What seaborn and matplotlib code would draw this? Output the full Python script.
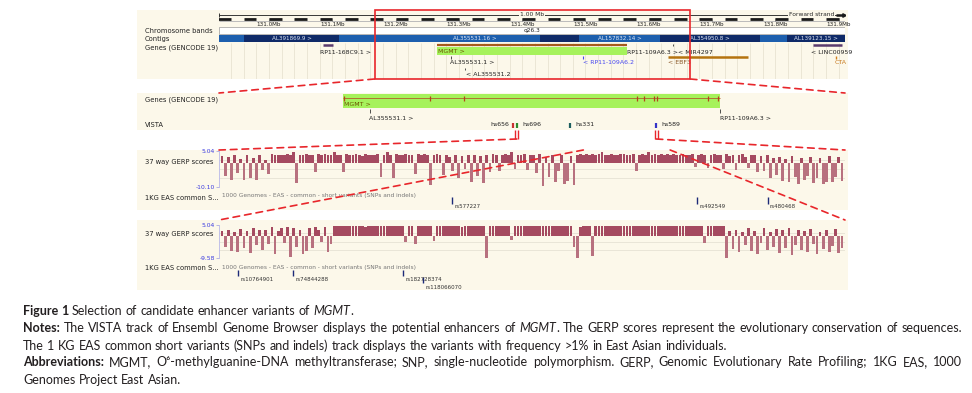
import numpy as np
import pandas as pd
import matplotlib
matplotlib.use("Agg")
import matplotlib.pyplot as plt
import seaborn as sns
from matplotlib.patches import Rectangle, ConnectionPatch

sns.set_theme(style="white")
plt.rcParams['font.family'] = ['DejaVu Sans']

W, H = 972, 393
BEIGE = '#fcf8ea'
RED = '#e8262b'
INK = '#231f20'

# genomic windows (Mb) shown in the four stacked views
region1 = (130.921, 131.910)
region2 = (131.1667, 131.6655)
region3 = (131.4040, 131.5150)
region4 = (131.4686, 131.4840)

# overview: contigs (start, end, label, dark?)
contig_start = [130.921, 130.961, 131.111, 131.223, 131.428, 131.490, 131.618, 131.776, 131.819]
contig_end = [130.961, 131.111, 131.223, 131.428, 131.490, 131.618, 131.776, 131.819, 131.910]
contig_label = ["", "AL391869.9 >", "", "AL355531.16 >", "", "AL157832.14 >", "AL354950.8 >", "", "AL139123.15 >"]
contig_dark = [False, True, False, False, True, False, True, False, True]

# MGMT gene and its exons
mgmt = (131.2655, 131.5658)
mgmt_exons = [131.2660, 131.3348, 131.3619, 131.4998, 131.5053, 131.5133, 131.5157, 131.5563, 131.5643]

# VISTA enhancers
vista_names = ["hs656", "hs696", "hs331", "hs589"]
vista_pos = [131.4010, 131.4041, 131.4464, 131.5149]
vista_cols = ['#c83232', '#2e8b2e', '#1d5f5f', '#3434c8']

# 37 way GERP scores, wide view (region3)
gerp3 = [
    2.8, -5.5, 2.4, -7.0, 3.2, -4.2, 1.5, -7.2, 3.4, -6.4, 2.2, -7.1, 3.5, -3.0, 1.2, -4.5, 3.6, 3.4, 3.5, 3.3,
    3.5, 3.6, 3.4, 4.6, -8.5, 3.5, 3.3, 3.6, 3.5, 3.4, -3.8, 3.6, 3.5, 3.7, 3.2, 3.4, 4.5, 3.5, 3.3, -4.0,
    3.6, 3.5, 3.4, 3.7, 3.5, 2.9, 3.6, 3.4, 3.5, 3.3, 3.6, -6.0, 3.5, 4.7, 3.4, -6.2, 3.6, 3.5, 3.3, 3.6,
    3.4, 3.5, -4.5, 3.7, 3.3, 3.6, 3.5, -9.2, 3.4, 3.6, 3.2, -5.0, 3.5, 2.6, -3.5, 3.4, -6.5, 2.8, -2.5, 3.5,
    -7.8, 3.2, -5.5, 2.9, -8.6, 3.4, -4.0, 3.6, 3.5, -3.2, 3.5, 3.7, 3.4, 4.6, -2.5, 3.5, 3.3, 3.6, -3.0, 3.4,
    3.5, -4.2, 3.6, -9.8, 2.5, -6.0, 3.2, -8.2, -3.5, 3.5, -8.9, -7.5, 3.0, -9.3, 3.4, 3.6, 3.5, 3.7, 3.4, 3.6,
    3.5, 3.6, 4.7, 3.4, 3.5, 3.6, 3.5, 3.3, 3.6, 3.7, 3.5, 3.4, 3.6, -3.4, 3.5, 3.6, 3.4, 4.5, 3.5, 3.6,
    3.4, 3.6, 3.5, 3.7, 3.5, 3.6, 3.4, 3.5, 3.6, 3.3, 3.5, 3.7, -1.5, 3.4, 3.6, 3.5, -2.0, 3.3, 3.6, 3.5,
    3.4, -2.5, 3.6, 2.8, 3.5, -3.0, 3.3, 3.6, 2.5, -2.2, 3.4, 3.5, -4.0, 2.8, -3.5, 3.2, -6.5, 2.0, -5.0, 2.5,
    -7.5, 1.8, -8.0, 3.0, -6.0, -8.8, 2.2, -7.0, -5.5, 2.6, -8.5, -6.5, 2.0, -9.0, -7.8, 2.8, -8.2, -6.0, 2.4, -7.5,
]
# 37 way GERP scores, close view (region4)
gerp4 = [
    2.5, -4.5, 3.0, -6.5, 1.8, -7.0, 3.2, -5.0, 2.2, -7.3, 3.5, -4.0, 2.8, -6.0, 3.0, -3.5, 4.3, -8.0, 2.5, 3.8,
    -3.0, 4.0, -9.0, 3.5, -4.5, 2.8, -8.0, -6.5, 3.6, -5.0, 4.2, 3.0, -2.5, 4.0, -7.0, -3.5, 4.4, 4.5, 4.6, 4.4,
    4.6, 4.5, 4.7, 4.4, 4.6, 4.5, 4.3, 4.6, 4.5, 4.7, 4.4, 4.6, 4.5, 4.6, 4.4, 4.5, 4.7, 4.6, 4.5, -2.5,
    4.6, 4.4, -3.5, 4.5, 4.6, 4.7, 4.5, 4.4, -2.0, 4.6, 4.5, 4.6, 4.4, 4.7, 4.5, 4.6, 4.5, 4.3, 4.6, 4.5,
    4.4, 4.6, 4.5, 4.7, 4.6, -9.5, 4.5, 4.4, 4.6, 4.5, 4.7, 4.6, 4.4, -1.5, 4.5, 4.6, 4.5, 4.4, 4.6, 4.7,
    4.5, 4.6, 4.4, 4.5, 4.7, 4.6, 4.5, 4.4, 4.6, 4.5, 4.6, 4.7, 4.4, -4.5, -10.0, 4.2, 4.6, 4.5, 4.4, -8.5,
    4.6, 4.5, 4.7, 4.4, 4.6, 4.5, 4.6, 4.4, 4.5, 4.7, 4.6, 4.5, 4.4, 4.6, 4.5, 4.7, 4.6, 4.5, 4.4, 4.6,
    4.5, 4.7, 4.6, 4.4, 4.5, 4.6, 4.5, 4.7, 4.4, 4.6, 4.5, 4.6, 4.4, 4.5, 4.7, -3.0, 4.6, 4.5, 4.4, 4.6,
    4.5, 4.6, -9.8, 2.5, -5.5, 3.0, -7.0, 1.8, -4.0, 3.5, -6.5, 2.2, -8.0, -3.0, 3.8, -6.0, 2.0, -4.5, 3.2, -7.5,
    2.8, -5.0, 3.6, -8.2, -4.0, 3.0, -6.0, 2.5, -7.0, 3.4, -3.5, -8.0, 2.0, -5.5, 3.0, -6.8, -4.2, 3.3, -7.5, -5.0,
]
gerp3_range = (-10.10, 5.04)
gerp4_range = (-9.58, 5.04)

# 1KG EAS common variants
var3_names = ["rs577227", "rs492549", "rs480468"]
var3_pos = [131.4453, 131.4888, 131.5013]
var4_names = ["rs10764901", "rs74844288", "rs182728374", "rs118066070"]
var4_pos = [131.46907, 131.47042, 131.47313, 131.47362]
var4_row = [0, 0, 0, 1]

fig = plt.figure(figsize=(W / 100, H / 100), dpi=100)


def px_axes(x0, y0, x1, y1, z=2):
    ax = fig.add_axes([x0 / W, 1 - y1 / H, (x1 - x0) / W, (y1 - y0) / H], zorder=z)
    ax.set_facecolor('none')
    return ax


bg = px_axes(0, 0, W, H, z=0)
bg.set_xlim(0, W)
bg.set_ylim(H, 0)
bg.axis('off')

panels = [(10, 79), (93, 130), (150, 210), (220, 290)]
for top, bot in panels:
    bg.add_patch(Rectangle((137, top), 711, bot - top, color=BEIGE, lw=0))

side_labels = [("Chromosome bands", 31), ("Contigs", 39), ("Genes (GENCODE 19)", 48),
               ("Genes (GENCODE 19)", 100), ("VISTA", 125),
               ("37 way GERP scores", 162), ("1KG EAS common S...", 198),
               ("37 way GERP scores", 234), ("1KG EAS common S...", 268)]
for s, y in side_labels:
    bg.text(145, y, s, fontsize=4.9, va='center', color='#222')


def track(top, bot, region):
    ax = px_axes(219, top, 845, bot)
    ax.set_xlim(*region)
    ax.set_ylim(bot, top)
    ax.axis('off')
    return ax


lab = dict(fontsize=4.5, va='center', color='#222')

# ---------------- panel 1: overview -----------------
ax1 = track(10, 79, region1)
ax1.hlines(15, region1[0], region1[1], color='k', lw=0.6)
ax1.vlines(region1[0], 13, 17, color='k', lw=0.6)
ax1.text(np.mean(region1), 15, "1.00 Mb", fontsize=4.3, ha='center', va='center',
         bbox=dict(fc=BEIGE, ec='none', pad=0.6))
ax1.text(131.893, 15, "Forward strand", fontsize=4.3, ha='right', va='center',
         bbox=dict(fc=BEIGE, ec='none', pad=0.6))
ax1.hlines(15, 131.895, 131.905, color='k', lw=1.8)
ax1.plot([131.909], [15], marker='>', ms=2.5, color='k')
ax1.hlines(20.5, region1[0], region1[1], color='#bbbbbb', lw=0.7)
for s in np.arange(130.92, 131.90, 0.04):
    ax1.hlines(18.7, s, min(s + 0.02, region1[1]), color='k', lw=2.0)
for t in np.arange(131.0, 131.95, 0.1):
    ax1.vlines(t, 17.5, 21, color='#555', lw=0.5)
    ax1.text(t, 24.2, f"{t:.1f}Mb", fontsize=4.1, ha='center', va='center', color='#222')

ax1.add_patch(Rectangle((region1[0], 27), region1[1] - region1[0], 6.5,
                        fc='white', ec='#9a9a9a', lw=0.5))
ax1.text(np.mean(region1), 30.5, "q26.3", fontsize=4.2, ha='center', va='center', color='#222')

for s0, s1, name, dark in zip(contig_start, contig_end, contig_label, contig_dark):
    ax1.add_patch(Rectangle((s0, 35), s1 - s0, 6.5, fc='#0f2a68' if dark else '#1d5fae', lw=0))
    if name:
        ax1.text((s0 + s1) / 2, 38.3, name, fontsize=4.1, ha='center', va='center', color='#dde6f5')

for g in np.arange(130.94, 131.91, 0.02):
    ax1.vlines(g, 42.5, 79, color='#e4dfcc', lw=0.5, zorder=0)

ax1.hlines(44.8, 131.0854, 131.1012, color='#5b3b6e', lw=1.8)
ax1.text(131.080, 52, "RP11-168C9.1 >", **lab)
ax1.hlines(44.8, *mgmt, color='#a55a1c', lw=1.6)
ax1.add_patch(Rectangle((mgmt[0], 46.5), mgmt[1] - mgmt[0], 8, fc='#a6f25c', lw=0))
ax1.text(mgmt[0] + 0.002, 51.5, "MGMT >", fontsize=4.5, va='center', color='#6b5200')
ax1.text(mgmt[1] + 0.0005, 52, "RP11-109A6.3 >< MIR4297", **lab)
ax1.vlines(131.6386, 43.5, 46, color='#333', lw=0.6)
ax1.vlines(131.2877, 56, 58.5, color='#333', lw=0.6)
ax1.text(131.2860, 62.5, "AL355531.1 >", **lab)
ax1.vlines(131.3098, 68, 70, color='#333', lw=0.6)
ax1.text(131.3110, 75, "< AL355531.2", **lab)
ax1.vlines(131.4963, 56, 58.5, color='#4848f0', lw=0.8)
ax1.text(131.4963, 62.5, "< RP11-109A6.2", fontsize=4.5, va='center', color='#4848f0')
ax1.hlines(57.3, 131.6306, 131.7570, color='#b5730f', lw=1.8)
ax1.text(131.6300, 62.5, "< EBF3", fontsize=4.5, va='center', color='#8a5a2a')
ax1.hlines(44.8, 131.8598, 131.9056, color='#5b3b6e', lw=1.8)
t1 = ax1.text(131.8567, 52, "< LINC00959", **lab)
ax1.vlines(131.8954, 56, 58.5, color='#d07d1a', lw=1.0)
t2 = ax1.text(131.8935, 62.5, "CTA", fontsize=4.5, va='center', color='#c87a20')
clip = Rectangle((137, 10), 711, 69, transform=bg.transData)
t1.set_clip_path(clip)
t2.set_clip_path(clip)

ax1.add_patch(Rectangle((region2[0], 10), region2[1] - region2[0], 69,
                        fill=False, ec=RED, lw=1.2, clip_on=False, zorder=5))

# ---------------- panel 2: MGMT -----------------
ax2 = track(93, 130, region2)
ax2.add_patch(Rectangle((mgmt[0], 94.3), mgmt[1] - mgmt[0], 14, fc='#a6f25c', lw=0))
ax2.hlines(98.3, *mgmt, color='#b0602a', lw=0.6)
ax2.vlines(mgmt_exons, 96, 101, color='#b5451b', lw=0.9)
ax2.text(mgmt[0] + 0.001, 104.5, "MGMT >", fontsize=4.5, va='center', color='#6b5200')
ax2.vlines(131.2870, 109, 112.5, color='#333', lw=0.6)
ax2.text(131.2866, 118, "AL355531.1 >", **lab)
ax2.vlines(mgmt[1] + 0.0001, 108.5, 112.5, color='#333', lw=0.6)
ax2.text(mgmt[1], 118, "RP11-109A6.3 >", **lab)
ax2.vlines(vista_pos, 123, 127.5, colors=vista_cols, lw=1.6)
for name, x in zip(vista_names, vista_pos):
    left = name == "hs656"
    ax2.annotate(name, (x, 125), xytext=(-2.5 if left else 4, 0), textcoords='offset points',
                 ha='right' if left else 'left', va='center', fontsize=4.5, color='#222')
for edge in region3:
    ax2.vlines([edge - 0.0011, edge + 0.0011], 130, 139, color=RED, lw=1.0, clip_on=False)


# ---------------- GERP panels -----------------
def gerp_panel(top, bot, g_top, g_bot, region, values, vrange):
    ax = track(top, bot, region)
    axg = px_axes(219, g_top, 845, g_bot, z=3)
    pos = np.linspace(region[0], region[1], len(values) + 2)[1:-1]
    df = pd.DataFrame({'pos': pos, 'score': values,
                       'sign': ['up' if v > 0 else 'down' for v in values]})
    sns.barplot(data=df, x='pos', y='score', hue='sign', native_scale=True, dodge=False,
                palette={'up': '#a54a60', 'down': '#b8717f'}, width=0.88, linewidth=0,
                saturation=1, legend=False, ax=axg)
    axg.set_xlim(*region)
    axg.set_ylim(*vrange)
    axg.set_xticks([])
    axg.set_xlabel('')
    axg.set_ylabel('')
    axg.set_yticks([vrange[0], vrange[1]])
    axg.set_yticklabels([f"{vrange[0]:.2f}", f"{vrange[1]:.2f}"])
    axg.tick_params(axis='y', left=True, length=2, width=0.5, color='#9a9ae0',
                    labelsize=4.3, labelcolor='#3a3ae0', pad=1)
    for sp in ['top', 'right', 'bottom']:
        axg.spines[sp].set_visible(False)
    axg.spines['left'].set_color('#b8b8e8')
    axg.spines['left'].set_linewidth(0.6)
    for f in (0.25, 0.5, 0.75):
        axg.plot([0, 1], [1 - f, 1 - f], transform=axg.transAxes, color='#e2ddd0', lw=0.5, zorder=0)
    return ax, axg


ax3, ax3g = gerp_panel(150, 210, 151, 187, region3, gerp3, gerp3_range)
yt3 = ax3.get_yaxis_transform()
ax3.text(0.005, 196, "1000 Genomes - EAS - common - short variants (SNPs and indels)",
         transform=yt3, fontsize=4.2, va='center', color='#777')
ax3.vlines(var3_pos, 197, 203.5, color='#1c2a78', lw=1.0)
for name, x in zip(var3_names, var3_pos):
    ax3.annotate(name, (x, 206.5), xytext=(1.5, 0), textcoords='offset points',
                 fontsize=4.0, va='center', color='#333')

ax4, ax4g = gerp_panel(220, 290, 225, 258, region4, gerp4, gerp4_range)
yt4 = ax4.get_yaxis_transform()
ax4.text(0.005, 267, "1000 Genomes - EAS - common - short variants (SNPs and indels)",
         transform=yt4, fontsize=4.2, va='center', color='#777')
for name, x, r in zip(var4_names, var4_pos, var4_row):
    ax4.vlines(x, 270 + 7 * r, 276 + 7 * r, color='#1c2a78', lw=1.0)
    ax4.annotate(name, (x, 279.5 + 7.5 * r), xytext=(1.5, 0), textcoords='offset points',
                 fontsize=4.0, va='center', color='#333')

# ---------------- dashed zoom connectors -----------------
links = [(ax1, ax2, region2, 79, 93), (ax2, ax3, region3, 139, 150), (ax3, ax4, region4, 150, 220)]
for a, b, reg, ya, yb in links:
    for x in reg:
        con = ConnectionPatch(xyA=(x, ya), coordsA=a.transData, xyB=(x, yb), coordsB=b.transData,
                              color=RED, lw=1.2, linestyle=(0, (4, 3)), zorder=20)
        con.set_clip_on(False)
        fig.add_artist(con)

# ---------------- caption -----------------
CAP_FS = 9.0
renderer = fig.canvas.get_renderer()


def props(st):
    return dict(family=['Lato', 'DejaVu Sans'], fontsize=CAP_FS, color=INK,
                fontweight='bold' if st == 'b' else 'normal',
                fontstyle='italic' if st == 'i' else 'normal', va='baseline')


def caption_line(runs, x0, yb, right=None):
    words, cur = [], []
    for text, st in runs:
        for k, part in enumerate(text.split(' ')):
            if k > 0 and cur:
                words.append(cur)
                cur = []
            if part:
                cur.append((part, st))
    if cur:
        words.append(cur)
    items = []
    for w in words:
        frags = []
        for s, st in w:
            t = fig.text(0, 0, s, **props(st))
            frags.append((t, t.get_window_extent(renderer).width))
        items.append(frags)
    tw = sum(fw for frags in items for _, fw in frags)
    a = fig.text(0, 0, "n n", **props('n'))
    b = fig.text(0, 0, "nn", **props('n'))
    gap = a.get_window_extent(renderer).width - b.get_window_extent(renderer).width
    a.remove()
    b.remove()
    if right is not None and len(items) > 1:
        gap = (right - x0 - tw) / (len(items) - 1)
    x = x0
    for frags in items:
        for t, fw in frags:
            t.set_position((x / W, 1 - yb / H))
            x += fw
        x += gap


caption_line([("Figure 1", 'b'), (" Selection of candidate enhancer variants of ", 'n'),
              ("MGMT", 'i'), (".", 'n')], 23, 315)
caption_line([("Notes:", 'b'),
              (" The VISTA track of Ensembl Genome Browser displays the potential enhancers of ", 'n'),
              ("MGMT", 'i'),
              (". The GERP scores represent the evolutionary conservation of sequences.", 'n')],
             23, 332.5, right=962)
caption_line([("The 1 KG EAS common short variants (SNPs and indels) track displays the variants "
               "with frequency >1% in East Asian individuals.", 'n')], 23, 349.5)
caption_line([("Abbreviations:", 'b'),
              (" MGMT, O\u2076-methylguanine-DNA methyltransferase; SNP, single-nucleotide polymorphism. "
               "GERP, Genomic Evolutionary Rate Profiling; 1KG EAS, 1000", 'n')],
             23, 366.5, right=962)
caption_line([("Genomes Project East Asian.", 'n')], 23, 383.5)

fig.savefig("out.png", dpi=100, facecolor='white')
